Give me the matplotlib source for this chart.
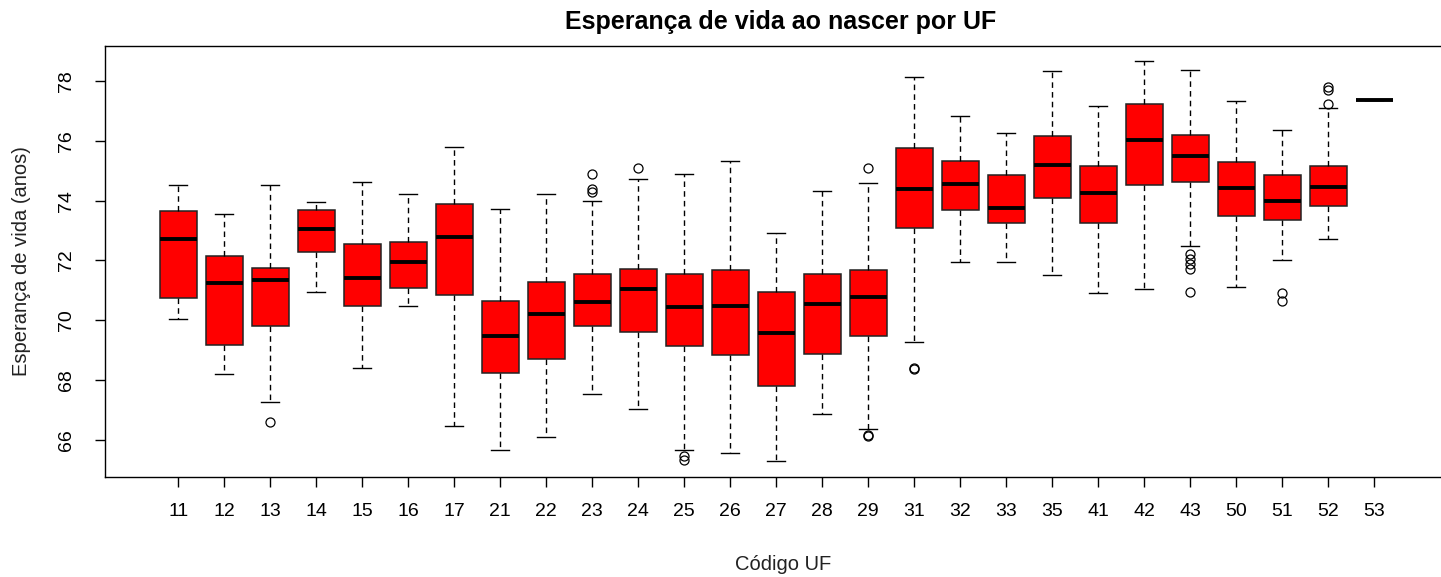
import matplotlib
matplotlib.use('Agg')
import matplotlib.pyplot as plt
import numpy as np

plt.rcParams['font.family'] = ['Liberation Sans', 'DejaVu Sans']

# UF codes and box statistics
codes = ['11', '12', '13', '14', '15', '16', '17', '21', '22', '23', '24', '25', '26', '27',
         '28', '29', '31', '32', '33', '35', '41', '42', '43', '50', '51', '52', '53']
whis_low = [70.04, 68.19, 67.26, 70.95, 68.41, 70.48, 66.48, 65.66, 66.09, 67.55, 67.04, 65.66, 65.57, 65.31,
            66.86, 66.36, 69.27, 71.94, 71.94, 71.50, 70.90, 71.04, 72.49, 71.11, 72.02, 72.71, 77.35]
q1 = [70.74, 69.19, 69.82, 72.28, 70.47, 71.07, 70.85, 68.23, 68.71, 69.82, 69.61, 69.14, 68.84, 67.80,
      68.88, 69.49, 73.10, 73.69, 73.26, 74.09, 73.26, 74.51, 74.63, 73.48, 73.35, 73.82, 77.35]
medians = [72.71, 71.25, 71.34, 73.05, 71.41, 71.94, 72.80, 69.48, 70.21, 70.60, 71.03, 70.43, 70.47, 69.57,
           70.56, 70.77, 74.39, 74.56, 73.74, 75.20, 74.26, 76.03, 75.50, 74.43, 74.00, 74.47, 77.35]
q3 = [73.65, 72.15, 71.75, 73.70, 72.54, 72.63, 73.88, 70.65, 71.29, 71.55, 71.72, 71.55, 71.68, 70.95,
      71.55, 71.68, 75.76, 75.32, 74.86, 76.15, 75.16, 77.23, 76.19, 75.28, 74.86, 75.16, 77.35]
whis_high = [74.51, 73.56, 74.51, 73.95, 74.63, 74.21, 75.80, 73.73, 74.21, 74.00, 74.73, 74.90, 75.32, 72.93,
             74.33, 74.60, 78.12, 76.83, 76.27, 78.33, 77.17, 78.65, 78.38, 77.34, 76.36, 77.10, 77.35]
outliers = {
    '13': [66.60],
    '23': [74.89, 74.38, 74.30],
    '24': [75.08],
    '25': [65.47, 65.32],
    '29': [75.08, 66.17, 66.12],
    '31': [68.40, 68.36],
    '43': [72.22, 72.04, 71.88, 71.70, 70.95],
    '51': [70.90, 70.65],
    '52': [77.80, 77.70, 77.22],
}

stats = []
for i, c in enumerate(codes):
    stats.append(dict(whislo=whis_low[i], q1=q1[i], med=medians[i], q3=q3[i],
                      whishi=whis_high[i], fliers=outliers.get(c, [])))

fig = plt.figure(figsize=(14.41, 5.77), dpi=100)
W, H = 1441, 577
left_px, top_px, bottom_px = 105.5, 46, 476.7
step = 46.0
ax = fig.add_axes([left_px / W, (H - bottom_px) / H, 29.16 * step / W, (bottom_px - top_px) / H])

pos = np.arange(1, len(codes) + 1)
ax.bxp(stats, positions=pos, widths=0.8, capwidths=0.4, patch_artist=True,
       boxprops=dict(facecolor='red', edgecolor='#222222', linewidth=1.1),
       medianprops=dict(color='black', linewidth=2.8, solid_capstyle='butt'),
       whiskerprops=dict(color='black', linestyle=(0, (4, 3)), linewidth=1),
       capprops=dict(color='black', linewidth=1),
       flierprops=dict(marker='o', markerfacecolor='none', markeredgecolor='black',
                       markersize=6.5, markeredgewidth=0.9))

ax.set_xlim(-0.58, 28.58)
ax.set_ylim(64.773, 79.168)
ax.set_xticks(pos)
ax.set_xticklabels(codes)
ax.set_yticks([66, 68, 70, 72, 74, 76, 78])
ax.set_yticklabels(['66', '68', '70', '72', '74', '76', '78'], rotation=90, va='center')
ax.tick_params(axis='both', direction='out', length=7, width=1, labelsize=14, colors='black')
ax.tick_params(axis='x', pad=12)
ax.tick_params(axis='y', pad=15)
for s in ax.spines.values():
    s.set_linewidth(1)
    s.set_color('black')

fig.text(781 / W, 1 - 22 / H, 'Esperança de vida ao nascer por UF', ha='center', va='center',
         fontsize=18, fontweight='bold')
fig.text(783 / W, 1 - 565 / H, 'Código UF', ha='center', va='center', fontsize=14.5, color='#222222')
fig.text(22 / W, 1 - 261.5 / H, 'Esperança de vida (anos)', ha='center', va='center',
         rotation=90, fontsize=14.5, color='#222222')

fig.savefig('out.png', dpi=100)
